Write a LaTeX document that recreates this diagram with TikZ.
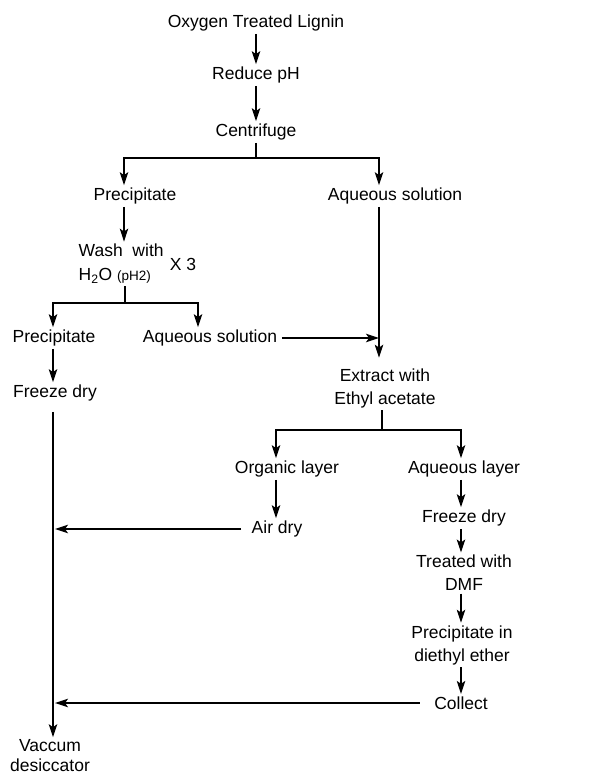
\documentclass[tikz,border=0pt]{standalone}
\usepackage{fontspec}
\setmainfont{Liberation Sans}
\usetikzlibrary{arrows.meta}

\begin{document}
\begin{tikzpicture}[x=1pt, y=-1pt,
	stage/.style={inner sep=2.5pt, font=\fontsize{17.5}{23}\selectfont},
	flow/.style={-{Stealth[length=13pt,width=8.5pt,inset=3pt]}, line width=1.1pt},
	link/.style={line width=1.1pt}]

	\useasboundingbox (0,0) rectangle (595,776);

	\node[stage] (otl)  at (256, 23)  {Oxygen Treated Lignin};
	\node[stage] (rph)  at (256, 75)  {Reduce pH};
	\node[stage] (cfg)  at (256, 132) {Centrifuge};
	\node[stage] (ppt1) at (135, 196) {Precipitate};
	\node[stage] (aqs1) at (395, 196) {Aqueous solution};
	\node[stage, align=left, anchor=west, font=\fontsize{17.5}{24}\selectfont] (wash) at (76, 264)
		{Wash\ \ with\\H\textsubscript{2}O {\fontsize{13.5}{15}\selectfont(pH2)}};
	\node[stage] (times) at (183, 264) {X 3};
	\node[stage] (ppt2) at (54, 338)  {Precipitate};
	\node[stage] (aqs2) at (210, 338) {Aqueous solution};
	\node[stage] (fzd1) at (55, 393)  {Freeze dry};
	\node[stage, align=center] (ext) at (385, 388) {Extract with\\Ethyl acetate};
	\node[stage] (org)  at (287, 469) {Organic layer};
	\node[stage] (aql)  at (464, 469) {Aqueous layer};
	\node[stage] (air)  at (277, 529) {Air dry};
	\node[stage] (fzd2) at (464, 518) {Freeze dry};
	\node[stage, align=center] (dmf) at (464, 573) {Treated with\\DMF};
	\node[stage, align=center] (dee) at (462, 645) {Precipitate in\\diethyl ether};
	\node[stage] (col)  at (461, 703) {Collect};
	\node[stage, align=center, font=\fontsize{17.5}{20}\selectfont] (vac) at (50, 756) {Vaccum\\desiccator};

	\coordinate (c1)  at (256, 158);
	\coordinate (c1l) at (124, 158);
	\coordinate (c1r) at (379, 158);
	\coordinate (w1)  at (125, 303);
	\coordinate (w1l) at (53, 303);
	\coordinate (w1r) at (198, 303);
	\coordinate (e1)  at (382, 430);
	\coordinate (e1l) at (276, 430);
	\coordinate (e1r) at (461, 430);
	\coordinate (hit) at (55, 0);

	\draw[flow] (otl) -- (rph);
	\draw[flow] (rph) -- (cfg);
	\draw[link] (cfg) -- (c1);
	\draw[flow] (c1) -| (ppt1.north -| c1l);
	\draw[flow] (c1) -| (aqs1.north -| c1r);
	\draw[flow] (ppt1.south -| c1l) -- (wash.north -| c1l);
	\draw[link] (wash.south -| w1) -- (w1);
	\draw[flow] (w1) -| (ppt2.north -| w1l);
	\draw[flow] (w1) -| (aqs2.north -| w1r);
	\draw[flow, shorten <=2pt] (aqs2.east) -- (aqs2.east -| c1r);
	\draw[flow, shorten >=8pt] (aqs1.south -| c1r) -- (ext.north -| c1r);
	\draw[flow] (ppt2.south -| w1l) -- (fzd1.north -| w1l);
	\draw[flow, shorten <=8pt] (fzd1.south -| w1l) -- (vac.north -| w1l);

	\draw[link] (ext.south -| e1) -- (e1);
	\draw[flow] (e1) -| (org.north -| e1l);
	\draw[flow] (e1) -| (aql.north -| e1r);
	\draw[flow] (org.south -| e1l) -- (air.north -| e1l);
	\draw[flow, shorten <=8pt] (air.west) -- (air.west -| hit);
	\draw[flow] (aql.south -| e1r) -- (fzd2.north -| e1r);
	\draw[flow] (fzd2.south -| e1r) -- (dmf.north -| e1r);
	\draw[flow] (dmf.south -| e1r) -- (dee.north -| e1r);
	\draw[flow] (dee.south -| e1r) -- (col.north -| e1r);
	\draw[flow, shorten <=12pt] (col.west) -- (col.west -| hit);

\end{tikzpicture}
\end{document}
